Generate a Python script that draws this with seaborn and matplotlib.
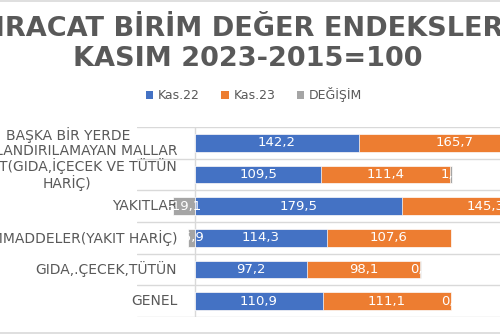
import matplotlib
matplotlib.use("Agg")
import matplotlib.pyplot as plt
from matplotlib.patches import Patch
from matplotlib.lines import Line2D
import numpy as np
import seaborn as sns

# Export unit value indices (2015=100), November 2022 vs November 2023
categories = [
    "BAŞKA BİR YERDE\nSINIFLANDIRILAMAYAN MALLAR",
    "İMALAT(GIDA,İÇECEK VE TÜTÜN\nHARİÇ)",
    "YAKITLAR",
    "HAMMADDELER(YAKIT HARİÇ)",
    "GIDA,.ÇECEK,TÜTÜN",
    "GENEL",
]
kas22 = [142.2, 109.5, 179.5, 114.3, 97.2, 110.9]
kas23 = [165.7, 111.4, 145.3, 107.6, 98.1, 111.1]
degisim = [16.5, 1.7, -19.1, -5.9, 0.9, 0.2]
series_names = ["Kas.22", "Kas.23", "DEĞİŞİM"]
title_lines = ["İHRACAT BİRİM DEĞER ENDEKSLERİ", "KASIM 2023-2015=100"]

BLUE, ORANGE, GRAY = "#4472C4", "#ED7D31", "#A5A5A5"
TEXT = "#595959"
GRID = "#D9D9D9"

sns.set_theme(style="white")
plt.rcParams["font.family"] = ["DejaVu Sans"]

W, H = 500, 335
fig = plt.figure(figsize=(W / 100, H / 100), dpi=100)

# plot area (pixels); value axis starts at -50
left_px, right_px, top_px, bottom_px = 137.4, 500.0, 127.0, 317.0
px_per_unit = 1.153
ax = fig.add_axes([left_px / W, 1 - bottom_px / H,
                   (right_px - left_px) / W, (bottom_px - top_px) / H])

k22 = np.array(kas22)
k23 = np.array(kas23)
chg = np.array(degisim)
stack2 = k22 + k23
gray_end = np.where(chg >= 0, stack2 + chg, chg)

for yb in np.arange(-0.5, len(categories)):
    ax.axhline(yb, color=GRID, lw=1.0, zorder=0)
ax.axvline(0, color=GRID, lw=1.0, zorder=0)

# stacked bars drawn as overlapping cumulative totals
bar_kw = dict(orient="h", width=0.56, saturation=1, edgecolor="white",
              linewidth=0.5, ax=ax, order=categories, zorder=2)
sns.barplot(x=gray_end, y=categories, color=GRAY, **bar_kw)
sns.barplot(x=stack2, y=categories, color=ORANGE, **bar_kw)
sns.barplot(x=k22, y=categories, color=BLUE, **bar_kw)

ax.set_xlim(-50, -50 + (right_px - left_px) / px_per_unit)
ax.set_ylim(len(categories) - 0.5, -0.5)
ax.set_xticks([])
ax.set_yticks([])
ax.set_xlabel("")
ax.set_ylabel("")
for sp in ax.spines.values():
    sp.set_visible(False)


def fmt(v):
    return f"{v:.1f}".replace(".", ",")


for i in range(len(categories)):
    centers = [k22[i] / 2, k22[i] + k23[i] / 2,
               stack2[i] + chg[i] / 2 if chg[i] >= 0 else chg[i] / 2]
    for c, v in zip(centers, [k22[i], k23[i], chg[i]]):
        ax.text(c, i, fmt(v), ha="center", va="center", color="white",
                fontsize=9.5, zorder=5, clip_on=True)
    ax.text(-15.5, i, categories[i], ha="right", va="center",
            multialignment="center", fontsize=10, color=TEXT,
            linespacing=1.1, zorder=4)

handles = [Patch(facecolor=c, edgecolor="none") for c in (BLUE, ORANGE, GRAY)]
fig.legend(handles, series_names, loc="center", ncol=3, frameon=False,
           bbox_to_anchor=(254 / W, 1 - 95 / H), fontsize=9,
           handlelength=0.6, handleheight=0.6, handletextpad=0.4,
           columnspacing=1.7, labelcolor=TEXT)

fig.text(243 / W, 1 - 36 / H, title_lines[0], ha="center", va="baseline",
         fontsize=19.5, fontweight="bold", color=TEXT)
fig.text(247.5 / W, 1 - 65.5 / H, title_lines[1], ha="center", va="baseline",
         fontsize=19.5, fontweight="bold", color=TEXT)

# chart area border (top and bottom edges)
for yb in (1 - 1 / H, 1 - 333 / H):
    fig.add_artist(Line2D([0, 1], [yb, yb], transform=fig.transFigure,
                          color=GRID, lw=1.2))

fig.savefig("out.png", dpi=100)
